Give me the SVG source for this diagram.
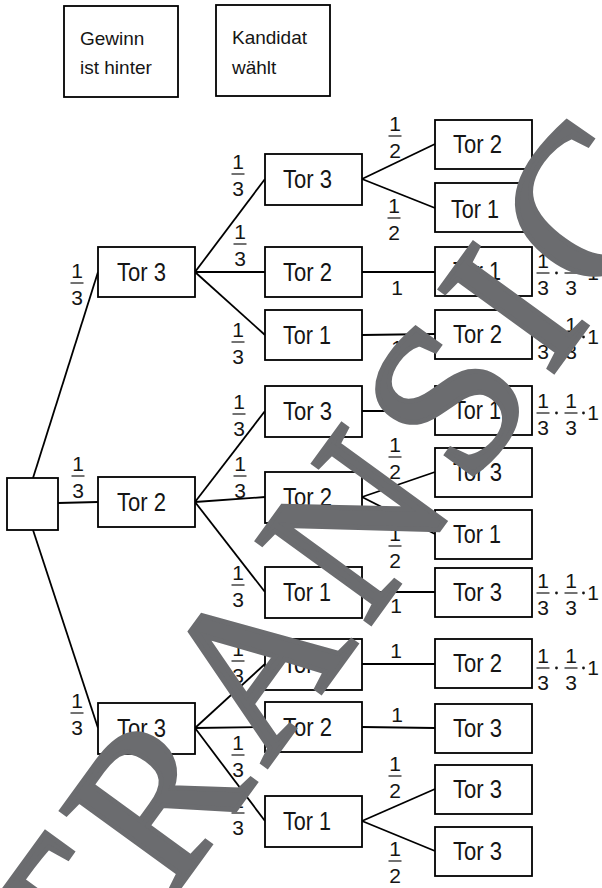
<svg xmlns="http://www.w3.org/2000/svg" xmlns:xlink="http://www.w3.org/1999/xlink" width="602" height="888" viewBox="0 0 602 888">
<style>
.b{fill:#fff;stroke:#000;stroke-width:1.8}
.t{font-family:"Liberation Sans",Arial,sans-serif;font-size:25px;fill:#151515}
.h{font-family:"Liberation Sans",Arial,sans-serif;font-size:19px;fill:#151515}
.f{font-family:"Liberation Sans",Arial,sans-serif;font-size:21px;fill:#151515;text-anchor:middle}
.c line{stroke:#000;stroke-width:1.8}
.bar{stroke:#151515;stroke-width:1.2}
.wm{font-family:"Liberation Serif","Times New Roman",serif;font-size:214px;letter-spacing:18px;fill:#6b6c6f;stroke:#6b6c6f;stroke-width:5;stroke-linejoin:miter}
</style>
<defs>
<g id="f13"><text class="f" y="-5">1</text><line class="bar" x1="-6.5" x2="6.5" y1="0" y2="0"/><text class="f" y="22">3</text></g>
<g id="f12"><text class="f" y="-5">1</text><line class="bar" x1="-6.5" x2="6.5" y1="0" y2="0"/><text class="f" y="22">2</text></g>
<g id="p"><use xlink:href="#f13" x="543"/><circle cx="556.5" cy="0" r="1.4" fill="#151515"/><use xlink:href="#f13" x="571"/><circle cx="583.5" cy="0" r="1.4" fill="#151515"/><text class="f" x="593" y="7">1</text></g>
</defs>

<g id="hdr1"><rect class="b" x="64" y="6" width="114" height="91"/><text class="h" x="80" y="45">Gewinn</text><text class="h" x="80" y="74">ist hinter</text></g>
<g id="hdr2"><rect class="b" x="216" y="5" width="114" height="91"/><text class="h" x="232" y="44">Kandidat</text><text class="h" x="232" y="74">wählt</text></g>

<g id="connectors" class="c">
<line x1="33" y1="478" x2="98" y2="272"/>
<line x1="58" y1="503" x2="98" y2="502"/>
<line x1="33" y1="530" x2="98" y2="728"/>
<line x1="195" y1="272" x2="265" y2="179"/>
<line x1="195" y1="272" x2="265" y2="272"/>
<line x1="195" y1="272" x2="265" y2="335"/>
<line x1="195" y1="502" x2="265" y2="411"/>
<line x1="195" y1="502" x2="265" y2="497"/>
<line x1="195" y1="502" x2="265" y2="592"/>
<line x1="195" y1="728" x2="265" y2="664"/>
<line x1="195" y1="728" x2="265" y2="727"/>
<line x1="195" y1="728" x2="265" y2="821"/>
<line x1="362" y1="179" x2="435" y2="144"/>
<line x1="362" y1="179" x2="435" y2="208"/>
<line x1="362" y1="272" x2="435" y2="272"/>
<line x1="362" y1="335" x2="435" y2="334"/>
<line x1="362" y1="411" x2="435" y2="411"/>
<line x1="362" y1="497" x2="435" y2="472"/>
<line x1="362" y1="497" x2="435" y2="534"/>
<line x1="362" y1="592" x2="435" y2="592"/>
<line x1="362" y1="664" x2="435" y2="664"/>
<line x1="362" y1="727" x2="435" y2="728"/>
<line x1="362" y1="821" x2="435" y2="789"/>
<line x1="362" y1="821" x2="435" y2="851"/>
</g>

<g id="root"><rect class="b" x="7" y="478" width="51" height="52"/></g>

<g id="n1a"><rect class="b" x="98" y="247" width="97" height="50"/><text class="t" x="117" y="281" textLength="49" lengthAdjust="spacingAndGlyphs">Tor 3</text></g>
<g id="n1b"><rect class="b" x="98" y="477" width="97" height="50"/><text class="t" x="117" y="511" textLength="49" lengthAdjust="spacingAndGlyphs">Tor 2</text></g>
<g id="n1c"><rect class="b" x="98" y="703" width="97" height="51"/><text class="t" x="117" y="737" textLength="49" lengthAdjust="spacingAndGlyphs">Tor 3</text></g>

<g id="n2a"><rect class="b" x="265" y="154" width="97" height="51"/><text class="t" x="283" y="188" textLength="49" lengthAdjust="spacingAndGlyphs">Tor 3</text></g>
<g id="n2b"><rect class="b" x="265" y="247" width="97" height="50"/><text class="t" x="283" y="281" textLength="49" lengthAdjust="spacingAndGlyphs">Tor 2</text></g>
<g id="n2c"><rect class="b" x="265" y="310" width="97" height="50"/><text class="t" x="283" y="344" textLength="48" lengthAdjust="spacingAndGlyphs">Tor 1</text></g>
<g id="n2d"><rect class="b" x="265" y="386" width="97" height="51"/><text class="t" x="283" y="420" textLength="49" lengthAdjust="spacingAndGlyphs">Tor 3</text></g>
<g id="n2e"><rect class="b" x="265" y="472" width="97" height="51"/><text class="t" x="283" y="506" textLength="49" lengthAdjust="spacingAndGlyphs">Tor 2</text></g>
<g id="n2f"><rect class="b" x="265" y="567" width="97" height="51"/><text class="t" x="283" y="601" textLength="48" lengthAdjust="spacingAndGlyphs">Tor 1</text></g>
<g id="n2g"><rect class="b" x="265" y="639" width="97" height="51"/><text class="t" x="283" y="673" textLength="49" lengthAdjust="spacingAndGlyphs">Tor 3</text></g>
<g id="n2h"><rect class="b" x="265" y="702" width="97" height="50"/><text class="t" x="283" y="736" textLength="49" lengthAdjust="spacingAndGlyphs">Tor 2</text></g>
<g id="n2i"><rect class="b" x="265" y="796" width="97" height="51"/><text class="t" x="283" y="830" textLength="48" lengthAdjust="spacingAndGlyphs">Tor 1</text></g>

<g id="n3a"><rect class="b" x="435" y="120" width="97" height="49"/><text class="t" x="453" y="153" textLength="49" lengthAdjust="spacingAndGlyphs">Tor 2</text></g>
<g id="n3b"><rect class="b" x="435" y="183" width="97" height="49"/><text class="t" x="451" y="218" textLength="48" lengthAdjust="spacingAndGlyphs">Tor 1</text></g>
<g id="n3c"><rect class="b" x="435" y="247" width="97" height="49"/><text class="t" x="453" y="280" textLength="48" lengthAdjust="spacingAndGlyphs">Tor 1</text></g>
<g id="n3d"><rect class="b" x="435" y="310" width="97" height="49"/><text class="t" x="453" y="343" textLength="49" lengthAdjust="spacingAndGlyphs">Tor 2</text></g>
<g id="n3e"><rect class="b" x="435" y="386" width="97" height="49"/><text class="t" x="453" y="419" textLength="48" lengthAdjust="spacingAndGlyphs">Tor 1</text></g>
<g id="n3f"><rect class="b" x="435" y="448" width="97" height="49"/><text class="t" x="453" y="481" textLength="49" lengthAdjust="spacingAndGlyphs">Tor 3</text></g>
<g id="n3g"><rect class="b" x="435" y="510" width="97" height="49"/><text class="t" x="453" y="543" textLength="48" lengthAdjust="spacingAndGlyphs">Tor 1</text></g>
<g id="n3h"><rect class="b" x="435" y="568" width="97" height="49"/><text class="t" x="453" y="601" textLength="49" lengthAdjust="spacingAndGlyphs">Tor 3</text></g>
<g id="n3i"><rect class="b" x="435" y="639" width="97" height="49"/><text class="t" x="453" y="672" textLength="49" lengthAdjust="spacingAndGlyphs">Tor 2</text></g>
<g id="n3j"><rect class="b" x="435" y="704" width="97" height="49"/><text class="t" x="453" y="737" textLength="49" lengthAdjust="spacingAndGlyphs">Tor 3</text></g>
<g id="n3k"><rect class="b" x="435" y="765" width="97" height="49"/><text class="t" x="453" y="798" textLength="49" lengthAdjust="spacingAndGlyphs">Tor 3</text></g>
<g id="n3l"><rect class="b" x="435" y="827" width="97" height="49"/><text class="t" x="453" y="860" textLength="49" lengthAdjust="spacingAndGlyphs">Tor 3</text></g>

<g id="labels">
<use xlink:href="#f13" x="77" y="283"/>
<use xlink:href="#f13" x="78" y="476"/>
<use xlink:href="#f13" x="77" y="713"/>
<use xlink:href="#f13" x="238" y="174"/>
<use xlink:href="#f13" x="240" y="244"/>
<use xlink:href="#f13" x="238" y="342"/>
<use xlink:href="#f13" x="239" y="414"/>
<use xlink:href="#f13" x="240" y="476"/>
<use xlink:href="#f13" x="238" y="585"/>
<use xlink:href="#f13" x="238" y="661"/>
<use xlink:href="#f13" x="238" y="755"/>
<use xlink:href="#f13" x="238" y="813"/>
<use xlink:href="#f12" x="395" y="136"/>
<use xlink:href="#f12" x="394" y="218"/>
<use xlink:href="#f12" x="395" y="457"/>
<use xlink:href="#f12" x="395" y="546"/>
<use xlink:href="#f12" x="395" y="776"/>
<use xlink:href="#f12" x="395" y="861"/>
<text class="f" x="397" y="295">1</text>
<text class="f" x="397" y="355">1</text>
<text class="f" x="395" y="409">1</text>
<text class="f" x="396" y="613">1</text>
<text class="f" x="396" y="658">1</text>
<text class="f" x="397" y="722">1</text>
<use xlink:href="#p" y="273"/>
<use xlink:href="#p" y="337"/>
<use xlink:href="#p" y="413"/>
<use xlink:href="#p" y="593"/>
<use xlink:href="#p" y="668"/>
</g>

<g id="watermark"><text class="wm" transform="translate(84,1018) rotate(-54)">TRANSIC</text></g>
</svg>
